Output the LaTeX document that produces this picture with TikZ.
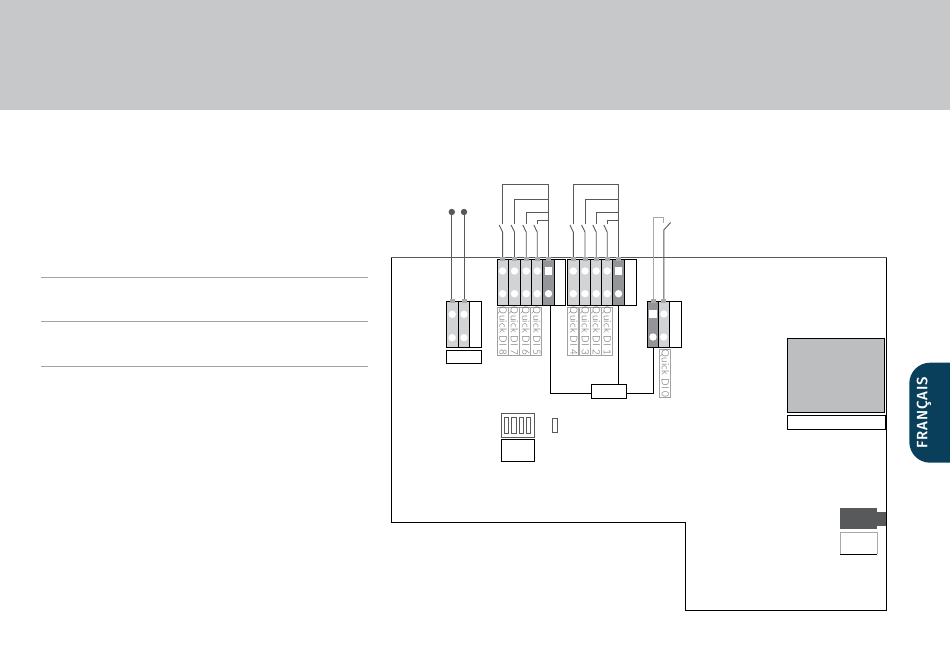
\documentclass[tikz,border=0pt]{standalone}
\usepackage{fontspec}
\setmainfont{Lato}
\newfontfamily\difont[LetterSpace=3]{Lato Light}
\newfontfamily\tabfont[LetterSpace=6]{Fira Sans Medium}
\definecolor{band}{HTML}{C7C8CA}
\definecolor{wiregray}{HTML}{58595B}
\definecolor{celllight}{HTML}{D1D3D4}
\definecolor{celldark}{HTML}{939598}
\definecolor{stubgray}{HTML}{A7A9AC}
\definecolor{panelgray}{HTML}{BDBEC0}
\definecolor{tabblue}{HTML}{0A3F5C}
\definecolor{labelgray}{HTML}{A0A2A5}
\tikzset{
  x=1pt,y=-1pt,
  every node/.style={inner sep=0pt,outer sep=0pt},
  cellbox/.style={draw=black,line width=0.9pt,minimum height=46pt},
  lightcell/.style={cellbox,fill=celllight},
  darkcell/.style={cellbox,fill=celldark},
  emptycell/.style={cellbox,fill=white},
  hole/.style={circle,fill=white,minimum size=7.4pt},
  sqhole/.style={rectangle,fill=white,minimum size=7.6pt},
  stub/.style={rectangle,fill=stubgray,minimum width=5pt,minimum height=4.5pt},
  wire/.style={draw=wiregray,line width=0.9pt},
  link/.style={draw=black,line width=0.9pt},
  labelbox/.style={draw=black,line width=0.9pt,fill=white},
  dilabel/.style={draw=labelgray,line width=0.6pt,fill=white,minimum height=10.9pt,minimum width=48pt,
    rotate=-90,text=black!65,font=\difont\fontsize{9.9}{10}\selectfont},
  pin/.style={circle,fill=wiregray,minimum size=6.4pt},
  rule/.style={draw=labelgray,line width=0.7pt},
  dipbox/.style={draw=wiregray,line width=0.9pt,fill=white}
}
\begin{document}
\begin{tikzpicture}
\useasboundingbox (0,0) rectangle (950,670);
\fill[white] (0,0) rectangle (950,670);
\node[fill=band,minimum width=950pt,minimum height=110pt] (header) at (475,55) {};
% left rules
\coordinate (r1a) at (41,277); \coordinate (r1b) at (368,277);
\coordinate (r2a) at (41,321.5); \coordinate (r2b) at (368,321.5);
\coordinate (r3a) at (41,366); \coordinate (r3b) at (368,366);
\draw[rule] (r1a) -- (r1b);
\draw[rule] (r2a) -- (r2b);
\draw[rule] (r3a) -- (r3b);
% board outline
\draw[draw=black,line width=1pt] (886,257) -- (886,610) -- (685,610) -- (685,522) -- (391,522) -- (391,257);
\draw[draw=wiregray,line width=1pt] (390.5,257) -- (886.5,257);
% links under the cells
\node[labelbox,minimum width=35.4pt,minimum height=14pt] (rel) at (609,391.3) {};
% block 1
\foreach \n/\x/\w/\s in {a1/452.2/12.5/lightcell,a2/464/11/lightcell,a3/475.5/12/emptycell}
  \node[\s,minimum width=\w pt] (\n) at (\x,324) {};
\foreach \n in {a1,a2}{
  \node[hole] (\n h1) at (\n.center |- 0,314.3) {};
  \node[hole] (\n h2) at (\n.center |- 0,337.7) {};
  \node[stub] (\n s) at (\n.north) {};
}
\node[pin] (p1) at (451.8,212) {};
\node[pin] (p2) at (464,212) {};
\draw[wire] (p1) -- (a1s.north -| p1);
\draw[wire] (p2) -- (a2s.north -| p2);
\node[labelbox,minimum width=35.6pt,minimum height=12.6pt] (alabel) at (464,356.7) {};
% block 2
\foreach \n/\x/\w/\s in {c8/502.6/11.3/lightcell,c7/514.5/12.4/lightcell,c6/526.2/11/lightcell,c5/537.2/11/lightcell,dk2/548.5/11.6/darkcell,e2/560/11.4/emptycell}
  \node[\s,minimum width=\w pt] (\n) at (\x,282) {};
% block 3
\foreach \n/\x/\w/\s in {c4/573.3/12/lightcell,c3/585/11.4/lightcell,c2/596.2/11/lightcell,c1/607.2/11/lightcell,dk3/618.5/11.6/darkcell,e3/630.3/12/emptycell}
  \node[\s,minimum width=\w pt] (\n) at (\x,282) {};
\foreach \n in {c8,c7,c6,c5,c4,c3,c2,c1,dk2,dk3}
  \node[stub] (\n s) at (\n.north) {};
\foreach \n in {c8,c7,c6,c5,c4,c3,c2,c1}{
  \node[hole] (\n h1) at (\n.center |- 0,271) {};
  \node[hole] (\n h2) at (\n.center |- 0,293.7) {};
}
\foreach \n in {dk2,dk3}{
  \node[sqhole] (\n h1) at (\n.center |- 0,270.7) {};
  \node[hole] (\n h2) at (\n.center |- 0,293.7) {};
}
% switched wires
\foreach \n/\d/\y in {c8/dk2/184.3,c7/dk2/199.3,c6/dk2/212.3,c5/dk2/220.3,c4/dk3/184.3,c3/dk3/199.3,c2/dk3/212.3,c1/dk3/220.3}{
  \draw[wire] (\n s.north) -- (\n.north |- 0,232) -- ++(-3.4,-7);
  \draw[wire] (\n.north |- 0,224) -- (\n.north |- 0,\y) -- (\d.north |- 0,\y);
}
\draw[wire] (dk2s.north) -- (dk2.north |- 0,184.3);
\draw[wire] (dk3s.north) -- (dk3.north |- 0,184.3);
% DI labels
\foreach \n/\x/\t in {c8/502.5/8,c7/513.8/7,c6/525.2/6,c5/536.2/5,c4/573.2/4,c3/584.6/3,c2/595.7/2,c1/606.7/1}
  \node[dilabel] (\n l) at (\x,331) {Quick DI \t};
% block 4
\foreach \n/\x/\w/\s in {d0/653/10.6/darkcell,d1/663.8/11/lightcell,d2/675.3/12/emptycell}
  \node[\s,minimum width=\w pt] (\n) at (\x,324) {};
\node[stub] (d0s) at (d0.north) {};
\node[stub] (d1s) at (d1.north) {};
\node[sqhole] (d0h1) at (d0.center |- 0,314) {};
\node[hole] (d0h2) at (d0.center |- 0,337) {};
\node[hole] (d1h1) at (d1.center |- 0,314) {};
\node[hole] (d1h2) at (d1.center |- 0,337) {};
\draw[draw=stubgray,line width=1pt] (d0s.north) -- (d0.north |- 0,217.3) -- (d1.north |- 0,217.3) -- (d1.north |- 0,223);
\draw[wire] (d1s.north) -- (d1.north |- 0,230) -- ++(6.8,-7.5);
\node[dilabel] (d1l) at (664.7,373.3) {Quick DI 0};
% relay links
\draw[link] (dk2.south -| 550,0) -- (550,393.3) -- (rel.west |- 0,393.3);
\draw[link] (dk3.south) -- (rel.north -| dk3.south);
\draw[link] (rel.east |- 0,393.3) -- (653,393.3) -- (d0.south);
% dip switch
\node[dipbox,minimum width=33pt,minimum height=24pt] (dip) at (517.8,425.3) {};
\foreach \n/\x in {s1/506.5,s2/513.8,s3/521.5,s4/528.5}
  \node[dipbox,minimum width=4.4pt,minimum height=16pt] (\n) at (\x,425.3) {};
\node[dipbox,minimum width=5.4pt,minimum height=14pt] (led) at (555,425.3) {};
\node[labelbox,minimum width=33pt,minimum height=22pt] (diplabel) at (517.8,450.3) {};
% panel
\node[draw=black,line width=0.9pt,fill=panelgray,minimum width=97.4pt,minimum height=74pt] (panel) at (836,375.3) {};
\node[labelbox,minimum width=98.2pt,minimum height=14pt] (panellabel) at (836.4,422.3) {};
% usb connector
\node[fill=wiregray,minimum width=37pt,minimum height=21.3pt] (usb) at (858.8,518.6) {};
\node[fill=wiregray,minimum width=9pt,minimum height=14pt] (usbneck) at (881.8,519) {};
\node[minimum width=37pt,minimum height=22pt] (usbl) at (858.8,543.3) {};
\draw[draw=stubgray,line width=0.9pt] (usbl.south west) -- (usbl.north west) -- (usbl.north east) -- (usbl.south east);
\draw[draw=black,line width=0.9pt] (usbl.south west) -- (usbl.south east);
% language tab
\fill[tabblue] (950,362.7) -- (930,362.7) arc[start angle=90,end angle=180,x radius=20.7pt,y radius=20.7pt]
  -- (909.3,442) arc[start angle=180,end angle=270,x radius=20.7pt,y radius=20.7pt] -- (950,462.7) -- cycle;
\node[rotate=90,text=white,font=\tabfont\fontsize{15}{15}\selectfont] (tab) at (924,413) {FRANÇAIS};
\end{tikzpicture}
\end{document}
